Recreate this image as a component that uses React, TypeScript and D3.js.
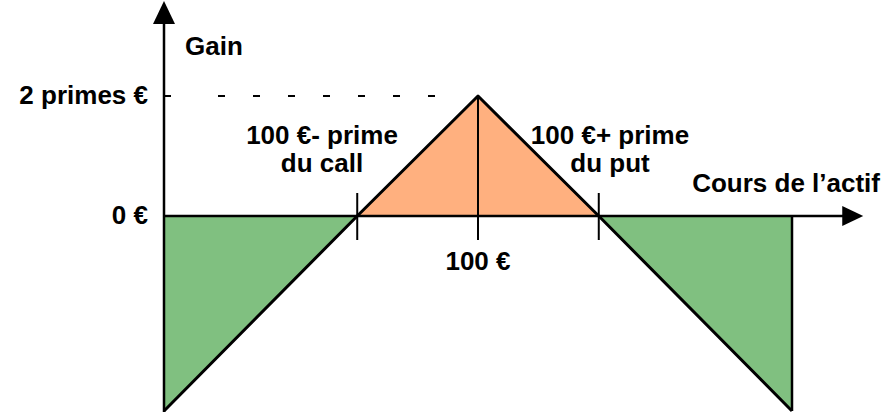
import React from 'react';
import * as d3 from 'd3';

// payoff of the strategy: price of the underlying vs gain
const prices = [74, 90, 100, 110, 126];
const gains = [-19.5, 0, 12, 0, -19.5];
const tickPrices = [90, 100, 110];
const peakGain = 12;
const axisMaxPrice = 131.9;
const axisMaxGain = 21.5;

const GREEN = '#80c080';
const ORANGE = '#ffb07f';
const FONT = '"Liberation Sans", Arial, Helvetica, sans-serif';

export default function App() {
    const width = 886, height = 414;
    const x = d3.scaleLinear().domain([74, 126]).range([164, 792]);
    const y = d3.scaleLinear().domain([-19.5, 12]).range([411, 96]);

    const pts: [number, number][] = prices.map((p, i) => [x(p), y(gains[i])]);
    const line = d3.line();
    const x0 = x(prices[0]), y0 = y(0);

    // filled regions
    const leftTri: [number, number][] = [[x0, y0], pts[1], pts[0]];
    const midTri: [number, number][] = [pts[1], pts[2], pts[3]];
    const rightTri: [number, number][] = [pts[3], [pts[4][0], y0], pts[4]];

    const xEnd = x(axisMaxPrice);
    const yTop = y(axisMaxGain);
    const txt = { fontFamily: FONT, fontWeight: 'bold', fontSize: 26, fill: '#000' } as const;

    return (
        <svg width={width} height={height} style={{ position: 'absolute', left: 0, top: 0, background: '#fff' }}>
            <path d={line(leftTri) + 'Z'} fill={GREEN} />
            <path d={line(midTri) + 'Z'} fill={ORANGE} />
            <path d={line(rightTri) + 'Z'} fill={GREEN} />

            {/* x axis */}
            <line x1={x0} x2={xEnd - 18} y1={y0} y2={y0} stroke="#000" strokeWidth={2.5} />
            <path d={`M${xEnd},${y0} L${xEnd - 21},${y0 - 10} L${xEnd - 21},${y0 + 10} Z`} fill="#000" />
            {/* y axis */}
            <line x1={x0} x2={x0} y1={y(gains[0]) + 1} y2={yTop + 20} stroke="#000" strokeWidth={2.5} />
            <path d={`M${x0},${yTop} L${x0 - 11},${yTop + 23} L${x0 + 11},${yTop + 23} Z`} fill="#000" />
            <line x1={x0} x2={x0 + 7} y1={y(peakGain)} y2={y(peakGain)} stroke="#000" strokeWidth={2} />
            <line x1={218} x2={436} y1={y(peakGain)} y2={y(peakGain)} stroke="#000" strokeWidth={2} strokeDasharray="7 28" />

            {/* ticks on price axis */}
            {tickPrices.map(p => (
                <line key={p} x1={x(p)} x2={x(p)} y1={y0 - 23} y2={y0 + 24} stroke="#000" strokeWidth={2} />
            ))}
            <line x1={x(100)} x2={x(100)} y1={y(peakGain)} y2={y0} stroke="#000" strokeWidth={2} />
            <line x1={pts[4][0]} x2={pts[4][0]} y1={y0} y2={pts[4][1]} stroke="#000" strokeWidth={2.5} />

            {/* payoff */}
            <path d={line(pts) || ''} fill="none" stroke="#000" strokeWidth={3} strokeLinejoin="round" />

            {/* labels */}
            <text x={185} y={55} {...txt}>Gain</text>
            <text x={148} y={104} textAnchor="end" {...txt}>2 primes €</text>
            <text x={148} y={224} textAnchor="end" {...txt}>0 €</text>
            <text x={322} y={144} textAnchor="middle" {...txt}>100 €- prime</text>
            <text x={322} y={172} textAnchor="middle" {...txt}>du call</text>
            <text x={610} y={144} textAnchor="middle" {...txt}>100 €+ prime</text>
            <text x={610} y={172} textAnchor="middle" {...txt}>du put</text>
            <text x={880} y={192} textAnchor="end" {...txt}>Cours de l’actif</text>
            <text x={x(100)} y={270} textAnchor="middle" {...txt}>100 €</text>
        </svg>
    );
}
